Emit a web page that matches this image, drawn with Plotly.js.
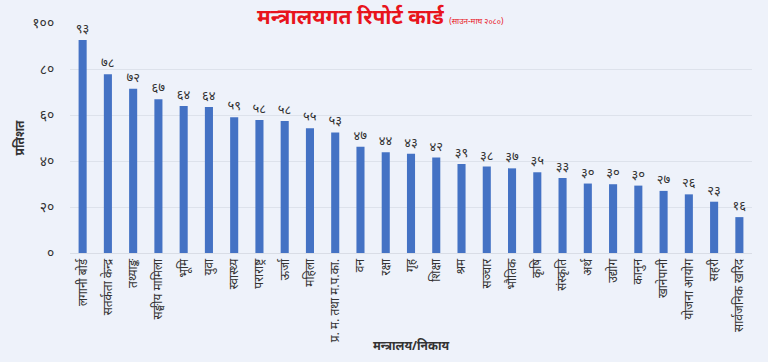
<!DOCTYPE html>
<html>
<head>
<meta charset="utf-8">
<script src="https://cdn.plot.ly/plotly-3.0.1.min.js"></script>
<style>html,body{margin:0;padding:0;background:#eef2fa;}#chart{width:768px;height:362px;}</style>
</head>
<body>
<div id="chart"></div>
<script>
var categories = ["लगानी बोर्ड","सतर्कता केन्द्र","तथ्याङ्क","सङ्घीय मामिला","भूमि","युवा","स्वास्थ्य","पराराष्ट्र","ऊर्जा","महिला","प्र. म. तथा म.प.का.","वन","रक्षा","गृह","शिक्षा","श्रम","सञ्चार","भौतिक","कृषि","संस्कृति","अर्थ","उद्योग","कानुन","खानेपानी","योजना आयोग","सहरी","सार्वजनिक खरिद"];
var values = [92.6,77.7,71.4,66.8,63.9,63.5,59.0,57.8,57.4,54.2,52.4,46.2,43.8,43.2,41.5,38.7,37.6,36.8,35.1,32.6,30.2,29.9,29.3,27.0,25.5,22.3,15.6];
var valueLabels = ["९३","७८","७२","६७","६४","६४","५९","५८","५८","५५","५३","४७","४४","४३","४२","३९","३८","३७","३५","३३","३०","३०","३०","२७","२६","२३","१६"];
var yTickVals = [0,20,40,60,80,100];
var yTickText = ["०","२०","४०","६०","८०","१००"];

var trace = {
  type:'bar', x:categories, y:values,
  text:valueLabels, textposition:'outside', cliponaxis:false, constraintext:'none',
  textfont:{size:13,color:'#333333'},
  marker:{color:'#4472C4'}, width:0.32, hoverinfo:'none'
};
var layout = {
  width:768, height:362,
  paper_bgcolor:'#eef2fa', plot_bgcolor:'#eef2fa',
  margin:{l:70,r:16,t:23,b:109},
  font:{family:'Noto Sans, DejaVu Sans, sans-serif', color:'#333333'},
  title:{text:'<b>मन्त्रालयगत रिपोर्ट कार्ड</b> <span style="font-size:8px">(साउन-माघ २०८०)</span>',
    font:{size:21,color:'#e8141c'}, x:0.495, xref:'container', xanchor:'center', y:0.955, yref:'container', yanchor:'middle'},
  xaxis:{tickangle:-90, tickfont:{size:12,color:'#333333'}, showgrid:false, showline:true, linecolor:'#d9dde6', linewidth:1,
    ticks:'', automargin:false,
    title:{text:'<b>मन्त्रालय/निकाय</b>', font:{size:12,color:'#333333'}, standoff:0}},
  yaxis:{range:[0,100], tickvals:yTickVals, ticktext:yTickText, tickfont:{size:14,color:'#333333'},
    gridcolor:'#dde2eb', gridwidth:1, zeroline:false, ticks:'outside', ticklen:12, tickcolor:'rgba(0,0,0,0)', automargin:false,
    title:{text:'<b>प्रतिशत</b>', font:{size:12,color:'#333333'}, standoff:5}},
  bargap:0.68, showlegend:false
};
Plotly.newPlot('chart',[trace],layout,{displayModeBar:false,staticPlot:true});
</script>
</body>
</html>
